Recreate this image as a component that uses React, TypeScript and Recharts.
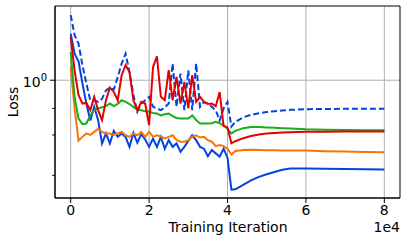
import React from 'react';
import { LineChart, Line, XAxis, YAxis, CartesianGrid, ReferenceArea } from 'recharts';

const iterations = [
  0, 1000, 2000, 3000, 4000, 5000, 6000, 7000, 8000, 9000,
  10000, 11000, 12000, 13000, 14000, 15000, 16000, 17000, 18000, 19000,
  20000, 21000, 22000, 23000, 24000, 25000, 26000, 27000, 28000, 29000,
  30000, 31000, 32000, 33000, 34000, 35000, 36000, 37000, 38000, 39000,
  40000, 41000, 42000, 44000, 46000, 48000, 50000, 52000, 54000, 56000,
  60000, 65000, 70000, 75000, 80000,
];

const blueDashed = [
  2.28, 1.77, 1.59, 1.21, 0.96, 0.776, 0.776, 0.76, 0.79, 0.88,
  0.91, 0.89, 1.04, 1.235, 1.4, 1.11, 0.83, 0.67, 0.744, 0.776,
  0.81, 0.714, 0.7, 0.684, 0.71, 0.744, 1.235, 0.714, 1.088, 0.684,
  1.135, 0.684, 1.235, 0.714, 0.76, 0.744, 0.714, 0.684, 0.6, 0.7,
  0.76, 0.555, 0.59, 0.625, 0.645, 0.658, 0.668, 0.676, 0.682, 0.687,
  0.693, 0.695, 0.696, 0.696, 0.696,
];

const blueSolid = [
  1.8, 1.4, 1.27, 0.96, 0.744, 0.6, 0.714, 0.603, 0.449, 0.509,
  0.449, 0.527, 0.488, 0.509, 0.488, 0.43, 0.513, 0.453, 0.505, 0.472,
  0.43, 0.478, 0.43, 0.488, 0.42, 0.468, 0.43, 0.449, 0.404, 0.43,
  0.464, 0.498, 0.468, 0.43, 0.42, 0.382, 0.413, 0.396, 0.38, 0.42,
  0.375, 0.25, 0.251, 0.266, 0.281, 0.294, 0.304, 0.313, 0.322, 0.327,
  0.327, 0.326, 0.325, 0.324, 0.323,
];

const orange = [
  1.18, 0.7, 0.465, 0.488, 0.51, 0.5, 0.52, 0.54, 0.52, 0.51,
  0.509, 0.5, 0.509, 0.52, 0.498, 0.488, 0.509, 0.498, 0.52, 0.488,
  0.52, 0.488, 0.498, 0.49, 0.478, 0.488, 0.498, 0.47, 0.459, 0.459,
  0.468, 0.49, 0.498, 0.484, 0.488, 0.468, 0.459, 0.434, 0.44, 0.434,
  0.42, 0.39, 0.408, 0.413, 0.414, 0.413, 0.412, 0.412, 0.411, 0.411,
  0.41, 0.407, 0.405, 0.403, 0.401,
];

const green = [
  1.43, 0.81, 0.615, 0.573, 0.578, 0.64, 0.684, 0.7, 0.71, 0.72,
  0.744, 0.72, 0.74, 0.776, 0.76, 0.74, 0.714, 0.69, 0.684, 0.675,
  0.67, 0.66, 0.656, 0.64, 0.65, 0.656, 0.635, 0.62, 0.615, 0.615,
  0.615, 0.64, 0.603, 0.578, 0.578, 0.578, 0.58, 0.59, 0.58, 0.565,
  0.54, 0.51, 0.527, 0.545, 0.553, 0.553, 0.55, 0.548, 0.545, 0.543,
  0.537, 0.534, 0.532, 0.531, 0.531,
];

const red = [
  1.73, 1.13, 0.83, 0.744, 0.75, 0.684, 0.81, 0.684, 0.603, 0.776,
  0.91, 0.863, 0.776, 1.065, 1.21, 1.11, 0.776, 0.684, 0.76, 0.744,
  0.566, 1.18, 1.355, 0.81, 0.776, 1.135, 0.776, 1.043, 0.744, 0.98,
  0.7, 1.065, 0.76, 0.81, 0.76, 0.74, 0.744, 0.72, 0.86, 0.56,
  0.55, 0.45, 0.462, 0.48, 0.493, 0.503, 0.509, 0.513, 0.516, 0.518,
  0.52, 0.521, 0.522, 0.522, 0.522,
];

const xTicks = [0, 20000, 40000, 60000, 80000];
const yMajorTicks = [1];
const yMinorTicks = [0.3, 0.4, 0.5, 0.6, 0.7, 0.8, 0.9, 2];

const data = iterations.map((it, i) => ({
  it,
  blueDashed: blueDashed[i],
  blueSolid: blueSolid[i],
  orange: orange[i],
  green: green[i],
  red: red[i],
}));

const FONT = 'DejaVu Sans';
const PLOT_LEFT = 55;

const YTick = (props: any) => {
  const { y, payload } = props;
  const v = payload.value;
  const major = yMajorTicks.includes(v);
  return (
    <g>
      <line x1={PLOT_LEFT - (major ? 5 : 2.8)} x2={PLOT_LEFT} y1={y} y2={y} stroke="#000" strokeWidth={1} />
      {major && (
        <text x={PLOT_LEFT - 8} y={y + 6.5} textAnchor="end" fontFamily={FONT} fontSize={14} fill="#000">
          <tspan>10</tspan>
          <tspan dy={-6} fontSize={10}>0</tspan>
        </text>
      )}
    </g>
  );
};

const XLabel = () => (
  <g>
    <text x={228} y={232} textAnchor="middle" fontFamily={FONT} fontSize={14} fill="#000">Training Iteration</text>
    <text x={400} y={232} textAnchor="end" fontFamily={FONT} fontSize={14} fill="#000">1e4</text>
  </g>
);

const YLabel = () => (
  <text x={18} y={102} textAnchor="middle" fontFamily={FONT} fontSize={14} fill="#000" transform="rotate(-90 18 102)">Loss</text>
);

export default function App() {
  return (
    <div style={{ position: 'absolute', left: 0, top: 0, width: 407, height: 242, background: '#fff' }}>
      <LineChart width={407} height={242} data={data} margin={{ top: 6, right: 7, left: 0, bottom: 0 }}>
        <CartesianGrid stroke="#b0b0b0" strokeWidth={1} horizontalValues={[1]} verticalValues={xTicks} />
        <XAxis
          dataKey="it"
          type="number"
          domain={[-4000, 84000]}
          ticks={xTicks}
          tickFormatter={(v: number) => String(v / 10000)}
          height={44}
          stroke="#000"
          tickSize={5}
          tickMargin={2}
          tick={{ fontFamily: FONT, fontSize: 14, fill: '#000' }}
          allowDataOverflow
          label={<XLabel />}
        />
        <YAxis
          type="number"
          scale="log"
          domain={[0.225, 2.56]}
          allowDataOverflow
          ticks={[...yMinorTicks, ...yMajorTicks]}
          width={55}
          stroke="#000"
          tickLine={false}
          tick={<YTick />}
          label={<YLabel />}
        />
        <ReferenceArea x1={-4000} x2={84000} y1={0.225} y2={2.56} fill="none" stroke="#000" strokeWidth={1} fillOpacity={0} />
        <Line dataKey="blueDashed" stroke="#0343df" strokeWidth={2} strokeDasharray="6 3" dot={false} isAnimationActive={false} />
        <Line dataKey="blueSolid" stroke="#0343df" strokeWidth={2} dot={false} isAnimationActive={false} />
        <Line dataKey="orange" stroke="#f97306" strokeWidth={2} dot={false} isAnimationActive={false} />
        <Line dataKey="green" stroke="#15b01a" strokeWidth={2} dot={false} isAnimationActive={false} />
        <Line dataKey="red" stroke="#e50000" strokeWidth={2} dot={false} isAnimationActive={false} />
      </LineChart>
    </div>
  );
}
